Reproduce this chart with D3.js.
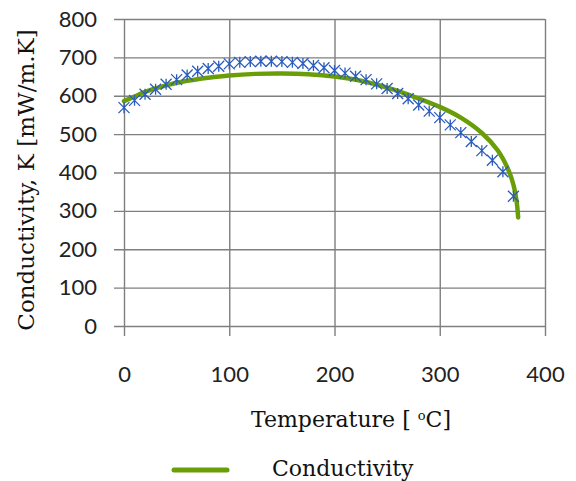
<!DOCTYPE html>
<html>
<head>
<meta charset="utf-8">
<script src="https://cdn.jsdelivr.net/npm/d3@7"></script>
<style>
  body { margin: 0; background: #fff; }
  .tick text { font-family: Lato, "Open Sans", sans-serif; font-size: 22px; fill: #222; }
  .title { font-family: "DejaVu Serif", serif; font-size: 22px; fill: #111; }
</style>
</head>
<body>
<div id="chart"></div>
<script>
// measured points (asterisks), every 10 degC
const tempPoints = [0, 10, 20, 30, 40, 50, 60, 70, 80, 90, 100, 110, 120, 130, 140, 150, 160, 170, 180, 190,
  200, 210, 220, 230, 240, 250, 260, 270, 280, 290, 300, 310, 320, 330, 340, 350, 360, 370];
const kPoints = [569, 588, 604, 617, 630, 642, 654, 664, 671, 677, 683, 687, 689, 690, 690, 689, 687, 684, 679, 673,
  666, 659, 651, 642, 631, 619, 606, 592, 576, 560, 543, 524, 504, 481, 457, 432, 402, 338];

// fitted curve (green line)
const curveTemp = [0, 10, 20, 40, 60, 80, 100, 125, 150, 175, 200, 225, 250, 275, 300, 320, 340, 355, 365, 370, 373, 374.5];
const curveK = [586, 598, 610, 627, 639, 647, 653, 657, 658, 656, 650, 639, 621, 598, 571, 543, 503, 458, 408, 368, 325, 283];

const xTicks = [0, 100, 200, 300, 400];
const yTicks = [0, 100, 200, 300, 400, 500, 600, 700, 800];
const seriesName = "Conductivity";

const W = 576, H = 481;
const margin = { top: 19, right: 31, bottom: 155, left: 124 };
const width = W - margin.left - margin.right;
const height = H - margin.top - margin.bottom;

const svgRoot = d3.select("#chart").append("svg")
  .attr("width", W)
  .attr("height", H);

const svg = svgRoot.append("g")
  .attr("transform", `translate(${margin.left},${margin.top})`);

const x = d3.scaleLinear().domain([0, 400]).range([0, width]);
const y = d3.scaleLinear().domain([0, 800]).range([height, 0]);

// y axis + horizontal grid (sticks out 10px on the left)
const yAxis = svg.append("g")
  .attr("transform", "translate(-10,0)")
  .call(d3.axisLeft(y).tickValues(yTicks).tickSize(-(width + 10)).tickPadding(17));

// x axis + vertical grid (sticks out 10px below)
const xAxis = svg.append("g")
  .attr("transform", `translate(0,${height + 10})`)
  .call(d3.axisBottom(x).tickValues(xTicks).tickSize(-(height + 10)).tickPadding(30));

[xAxis, yAxis].forEach(a => {
  a.select(".domain").remove();
  a.selectAll(".tick line").attr("stroke", "#7f7f7f").attr("stroke-width", 1.4);
});

// fitted line
const line = d3.line()
  .curve(d3.curveCatmullRom)
  .x(d => x(d[0]))
  .y(d => y(d[1]));

svg.append("path")
  .datum(curveTemp.map((t, i) => [t, curveK[i]]))
  .attr("fill", "none")
  .attr("stroke", "#6a9e08")
  .attr("stroke-width", 4.5)
  .attr("stroke-linecap", "round")
  .attr("stroke-linejoin", "round")
  .attr("d", line);

// asterisk markers
const s = 5.5;
const star = `M${-s},${-s}L${s},${s}M${-s},${s}L${s},${-s}M0,${-s}L0,${s}`;
svg.selectAll(".pt")
  .data(tempPoints.map((t, i) => [t, kPoints[i]]))
  .enter().append("path")
  .attr("class", "pt")
  .attr("transform", d => `translate(${x(d[0])},${y(d[1])})`)
  .attr("d", star)
  .attr("fill", "none")
  .attr("stroke", "#2a5cbc")
  .attr("stroke-width", 1.3);

// axis titles
svgRoot.append("text")
  .attr("class", "title")
  .attr("x", 351)
  .attr("y", 427)
  .attr("text-anchor", "middle")
  .html('Temperature [ <tspan baseline-shift="super" font-size="13px">o</tspan>C]');

svgRoot.append("text")
  .attr("class", "title")
  .attr("transform", "translate(34,180) rotate(-90)")
  .attr("text-anchor", "middle")
  .style("font-size", "23px")
  .text("Conductivity, K [mW/m.K]");

// legend
svgRoot.append("line")
  .attr("x1", 174).attr("x2", 227)
  .attr("y1", 470).attr("y2", 470)
  .attr("stroke", "#6a9e08")
  .attr("stroke-width", 5)
  .attr("stroke-linecap", "round");

svgRoot.append("text")
  .attr("class", "title")
  .attr("x", 272)
  .attr("y", 476)
  .text(seriesName);
</script>
</body>
</html>
